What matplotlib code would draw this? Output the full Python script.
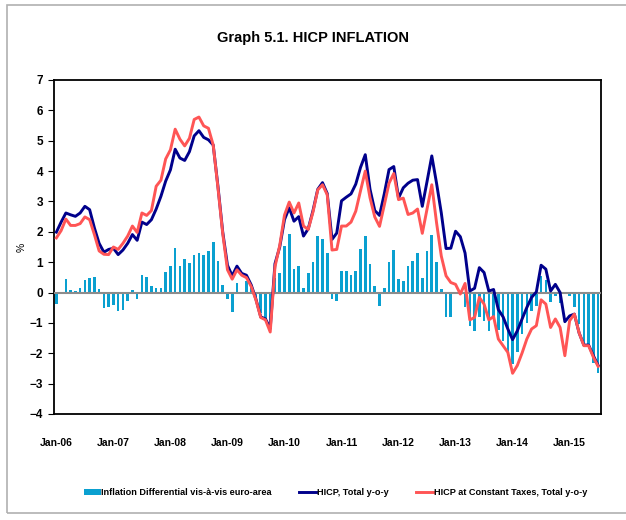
import numpy as np
import matplotlib
matplotlib.use('Agg')
import matplotlib.pyplot as plt
from matplotlib.patches import Rectangle

# monthly data, Jan-06 .. Jul-15
diff = [-0.38, 0.02, 0.43, 0.10, 0.04, 0.15, 0.42, 0.47, 0.50, 0.13, -0.52, -0.46,
        -0.42, -0.62, -0.57, -0.27, 0.08, -0.20, 0.57, 0.50, 0.22, 0.15, 0.15, 0.69,
        0.87, 1.47, 0.87, 1.09, 0.98, 1.25, 1.30, 1.23, 1.36, 1.68, 1.03, 0.24,
        -0.20, -0.63, 0.31, -0.04, 0.38, 0.25, -0.16, -0.66, -0.93, -1.05, 0.49, 0.66,
        1.53, 1.92, 0.77, 0.88, 0.16, 0.63, 1.02, 1.86, 1.77, 1.31, -0.20, -0.28,
        0.72, 0.72, 0.57, 0.72, 1.44, 1.85, 0.93, 0.21, -0.45, 0.16, 1.02, 1.41,
        0.44, 0.39, 0.87, 1.05, 1.29, 0.49, 1.37, 1.88, 1.00, 0.11, -0.79, -0.79,
        0.03, -0.02, -0.46, -1.11, -1.28, -0.81, -0.94, -1.28, -0.82, -1.22, -1.60, -2.05,
        -2.36, -1.95, -1.37, -0.99, -0.60, -0.44, 0.55, 0.42, -0.31, -0.11, -0.33, -0.05,
        -0.11, -0.49, -1.04, -1.75, -1.80, -2.32, -2.66]

hicp = [1.99, 2.32, 2.62, 2.56, 2.51, 2.62, 2.84, 2.73, 2.13, 1.62, 1.33, 1.42,
        1.46, 1.25, 1.40, 1.62, 1.91, 1.72, 2.32, 2.24, 2.40, 2.75, 3.17, 3.67,
        4.04, 4.72, 4.43, 4.35, 4.64, 5.16, 5.33, 5.11, 5.03, 4.86, 3.50, 2.00,
        0.90, 0.55, 0.87, 0.63, 0.57, 0.25, -0.22, -0.80, -0.87, -1.18, 0.95, 1.50,
        2.40, 2.79, 2.35, 2.50, 1.86, 2.10, 2.70, 3.40, 3.62, 3.26, 1.75, 1.96,
        3.02, 3.14, 3.25, 3.57, 4.12, 4.54, 3.40, 2.70, 2.54, 3.25, 4.05, 4.15,
        3.11, 3.45, 3.60, 3.70, 3.72, 2.84, 3.66, 4.50, 3.60, 2.62, 1.45, 1.46,
        2.02, 1.84, 1.30, 0.05, 0.14, 0.82, 0.66, 0.05, 0.10, -0.56, -0.80, -1.20,
        -1.55, -1.26, -0.87, -0.49, -0.16, 0.02, 0.90, 0.77, 0.05, 0.27, 0.00, -0.96,
        -0.77, -0.71, -1.33, -1.73, -1.73, -2.08, -2.40]

hicp_ct = [1.80, 2.04, 2.42, 2.21, 2.21, 2.27, 2.49, 2.40, 1.91, 1.37, 1.26, 1.25,
           1.50, 1.42, 1.62, 1.86, 2.19, 1.98, 2.62, 2.54, 2.70, 3.50, 3.70, 4.40,
           4.70, 5.38, 5.05, 4.83, 5.08, 5.70, 5.78, 5.49, 5.41, 4.86, 3.45, 1.95,
           0.75, 0.44, 0.75, 0.57, 0.49, 0.20, -0.25, -0.82, -0.90, -1.30, 0.85, 1.55,
           2.55, 2.98, 2.62, 2.95, 2.19, 2.08, 2.65, 3.38, 3.55, 3.22, 1.40, 1.42,
           2.19, 2.19, 2.32, 2.68, 3.35, 4.00, 3.12, 2.49, 2.18, 2.88, 3.60, 3.92,
           3.06, 3.11, 2.57, 2.62, 2.75, 1.95, 2.75, 3.55, 2.30, 1.20, 0.55, 0.33,
           0.27, -0.05, 0.30, -0.90, -0.82, -0.16, -0.38, -0.90, -0.79, -1.53, -1.75, -1.97,
           -2.66, -2.40, -1.99, -1.53, -1.20, -1.09, -0.24, -0.38, -1.15, -0.87, -1.15, -2.08,
           -0.93, -0.71, -1.33, -1.75, -1.75, -2.13, -2.43]

years = ['Jan-06', 'Jan-07', 'Jan-08', 'Jan-09', 'Jan-10', 'Jan-11', 'Jan-12',
         'Jan-13', 'Jan-14', 'Jan-15']

plt.rcParams['font.family'] = ['Liberation Sans', 'DejaVu Sans']
plt.rcParams['font.weight'] = 'bold'

fig = plt.figure(figsize=(6.26, 5.20), dpi=100)
# light outer frame like the excel chart area
fig.patches.append(Rectangle((7/626, 7/520), 1.2, 1-12/520, transform=fig.transFigure,
                             fill=False, edgecolor='#b0b0b0', lw=1.2))

ax = fig.add_axes([54/626, 1-414/520, 546.5/626, 334/520])
x = np.arange(len(diff))
b = ax.bar(x, diff, width=0.55, color='#0aa0d0', zorder=2)
ax.axhline(0, color='#8c8c8c', lw=1.5, zorder=3)
l1, = ax.plot(x, hicp, color='#00008b', lw=2.1, zorder=4)
l2, = ax.plot(x, hicp_ct, color='#ff5555', lw=2.1, zorder=5)

ax.set_xlim(-0.5, len(diff) - 0.5)
ax.set_ylim(-4, 7)
ax.set_yticks(range(-4, 8))
ax.set_xticks(range(0, len(diff), 12))
ax.set_xticklabels(years)
ax.tick_params(axis='x', length=0, pad=17, labelsize=7.5)
ax.tick_params(axis='y', length=4, direction='out', labelsize=8.5, pad=4)
for s in ax.spines.values():
    s.set_color('black')
    s.set_linewidth(1.3)
ax.set_ylabel('%', fontsize=7.5, labelpad=2)

fig.text(0.5, 1-38/520, 'Graph 5.1. HICP INFLATION', ha='center', va='center',
         fontsize=10.5, fontweight='bold')

ax.legend([b, l1, l2],
          ['Inflation Differential vis-à-vis euro-area', 'HICP, Total y-o-y',
           'HICP at Constant Taxes, Total y-o-y'],
          loc='center', bbox_to_anchor=(0.515, -0.235), ncol=3, frameon=False,
          fontsize=6.6, handlelength=1.8, handletextpad=0.1, columnspacing=3.0)

fig.savefig('out.png', dpi=100)
